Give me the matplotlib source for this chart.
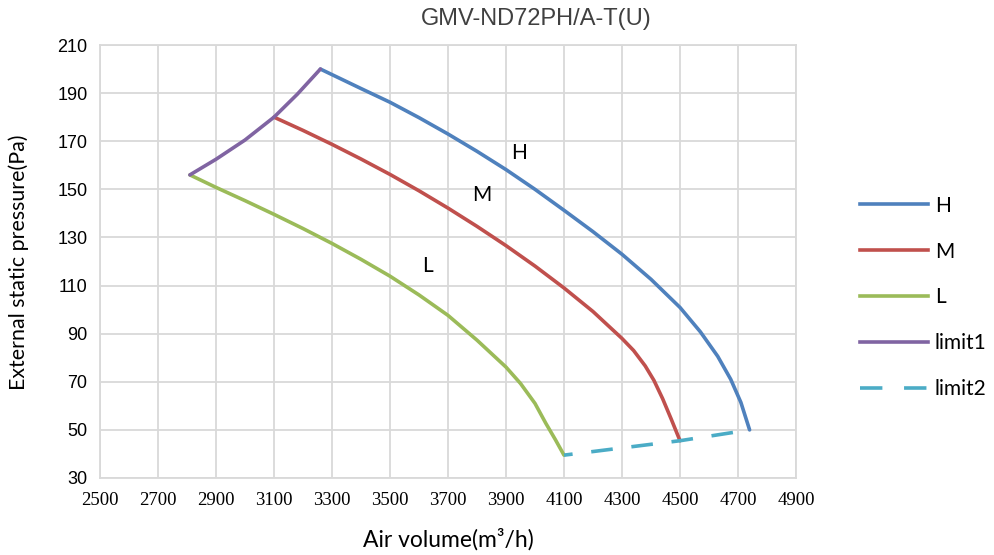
import matplotlib
matplotlib.use("Agg")
import matplotlib.pyplot as plt
from matplotlib.lines import Line2D

title = "GMV-ND72PH/A-T(U)"

H_x = [3260, 3400, 3500, 3600, 3700, 3800, 3900, 4000, 4100, 4200, 4300, 4400, 4500, 4570, 4630, 4675, 4710, 4740]
H_y = [200, 191.9, 186.2, 179.8, 173.0, 165.8, 158.2, 150.0, 141.3, 132.4, 123.0, 112.6, 100.9, 90.8, 80.6, 71.0, 61.4, 50]

M_x = [3100, 3200, 3300, 3400, 3500, 3600, 3700, 3800, 3900, 4000, 4100, 4200, 4300, 4340, 4380, 4410, 4440, 4470, 4500]
M_y = [180, 174.5, 168.7, 162.6, 156.2, 149.4, 142.2, 134.6, 126.6, 118.1, 109.0, 99.2, 88.0, 83.0, 76.6, 70.6, 63.0, 54.4, 45.5]

L_x = [2810, 2900, 3000, 3100, 3200, 3300, 3400, 3500, 3600, 3700, 3800, 3900, 3950, 4000, 4037, 4070, 4100]
L_y = [156, 150.8, 145.3, 139.6, 133.7, 127.5, 120.9, 113.9, 106.1, 97.6, 87.3, 76.1, 69.3, 61.0, 52.8, 46.0, 39.5]

limit1_x = [2810, 2900, 3000, 3100, 3180, 3260]
limit1_y = [156, 162.5, 170.5, 180, 189.5, 200]

limit2_x = [4100, 4500, 4740]
limit2_y = [39.5, 45.5, 50]

x_ticks = list(range(2500, 4901, 200))
y_ticks = list(range(30, 211, 20))

annot = [("H", 3945, 165), ("M", 3817, 147.5), ("L", 3631, 118)]

colors = {"H": "#4F81BD", "M": "#C0504D", "L": "#9BBB59",
          "limit1": "#8064A2", "limit2": "#4BACC6"}

fig = plt.figure(figsize=(9.95, 5.55), dpi=100)
ax = fig.add_axes([100/995, 1-478/555, 696/995, 433/555])

lw = 2.6
kw = dict(lw=lw, solid_capstyle="round", solid_joinstyle="round")
ax.plot(H_x, H_y, color=colors["H"], **kw)
ax.plot(M_x, M_y, color=colors["M"], **kw)
ax.plot(L_x, L_y, color=colors["L"], **kw)
ax.plot(limit1_x, limit1_y, color=colors["limit1"], **kw)
ax.plot(limit2_x, limit2_y, color=colors["limit2"], lw=lw,
        linestyle=(3.6, (6.0, 5.2)), dash_capstyle="butt")

for t, x, y in annot:
    ax.text(x, y, t, fontsize=15, family="Lato", ha="center", va="center")

ax.set_xlim(2500, 4900)
ax.set_ylim(30, 210)
ax.set_xticks(x_ticks)
ax.set_yticks(y_ticks)
ax.set_xticklabels([str(v) for v in x_ticks], family="Liberation Serif", fontsize=13.5)
ax.set_yticklabels([str(v) for v in y_ticks], family="Liberation Sans", fontsize=13)
ax.tick_params(length=0)
ax.tick_params(axis="y", pad=9)
ax.tick_params(axis="x", pad=10)
ax.grid(True, color="#D9D9D9", lw=1.3)
ax.set_axisbelow(True)
for s in ax.spines.values():
    s.set_color("#D9D9D9")
    s.set_linewidth(1.3)

fig.text(536/995, 1-19/555, title, ha="center", va="center", fontsize=17,
         family="Liberation Sans", color="#404040")
fig.text(448/995, 1-539/555, "Air volume(m³/h)", ha="center", va="center",
         fontsize=16.5, family="Lato")
fig.text(19/995, 1-262/555, "External static pressure(Pa)", ha="center", va="center",
         rotation=90, fontsize=15.4, family="Lato")

handles = [Line2D([], [], color=colors["H"], lw=lw),
           Line2D([], [], color=colors["M"], lw=lw),
           Line2D([], [], color=colors["L"], lw=lw),
           Line2D([], [], color=colors["limit1"], lw=lw),
           Line2D([], [], color=colors["limit2"], lw=lw, linestyle=(0, (6.2, 6.0)))]
labels = ["H", "M", "L", "limit1", "limit2"]
fig.legend(handles, labels, loc="upper left", bbox_to_anchor=(843/995, 1-179/555),
           frameon=False, prop={"family": "Lato", "size": 15},
           handlelength=3.27, handletextpad=0.34, labelspacing=1.24,
           borderpad=0.3)

fig.savefig("out.png", dpi=100)
